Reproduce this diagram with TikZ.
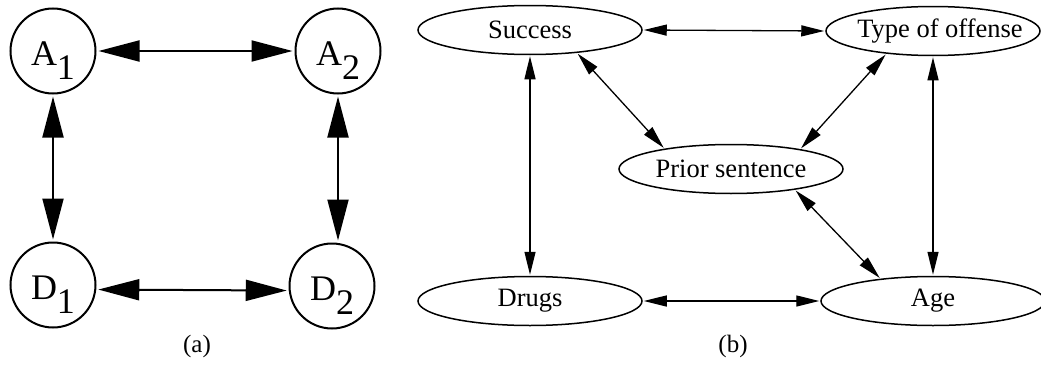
\documentclass[tikz,border=0pt]{standalone}
\usepackage{fontspec}
\setmainfont{Liberation Serif}
\usetikzlibrary{arrows.meta,shapes.geometric}
\newcommand{\lbl}[1]{\makebox[0pt][c]{#1}}
\newcommand{\circlbl}[2]{#1\raisebox{-14pt}{#2}}
\begin{document}
\begin{tikzpicture}[x=1pt,y=-1pt,
  circ/.style={circle,draw,line width=2pt,minimum size=85pt,inner sep=0pt,
    text height=42pt,text depth=14pt,font=\fontsize{36}{38}\selectfont},
  ell/.style={ellipse,draw,line width=1.5pt,minimum width=224pt,minimum height=49pt,
    inner sep=0pt,font=\fontsize{26.5}{30}\selectfont},
  bigarr/.style={line width=2pt,shorten <=2pt,shorten >=2pt,
    {Triangle[length=41pt,width=21pt]}-{Triangle[length=41pt,width=21pt]}},
  smallarr/.style={line width=1.3pt,shorten <=1pt,shorten >=1pt,
    {Triangle[length=23pt,width=11pt]}-{Triangle[length=23pt,width=11pt]}},
  captxt/.style={font=\fontsize{25}{28}\selectfont}
]
\useasboundingbox (0,0) rectangle (1041,364);

% panel (a)
\node[circ] (A1) at (53,51)  {\circlbl{A}{1}};
\node[circ] (A2) at (338,51) {\circlbl{A}{2}};
\node[circ] (D1) at (53,285) {\circlbl{D}{1}};
\node[circ] (D2) at (332,286) {\circlbl{D}{2}};

\draw[bigarr] (A1.east) -- (A2.west);
\draw[bigarr] (D1.-6) -- (D2.186);
\draw[bigarr] (A1.south) -- (D1.north);
\draw[bigarr] (A2.south) -- (A2.south |- D2.north);

\node[captxt] (capa) at (197,346) {(a)};

% panel (b)
\node[ell] (S)  at (530,30)  {\lbl{Success}};
\node[ell,minimum width=214pt] (T) at (933,31) {\lbl{\hspace*{14pt}Type of offense}};
\node[ell] (P)  at (731,169) {\lbl{Prior sentence}};
\node[ell] (Dg) at (530,301) {\lbl{Drugs}};
\node[ell] (Ag) at (933,301) {\lbl{Age}};

\draw[smallarr] (S.east) -- (T.west);
\draw[smallarr] (S.south) -- (Dg.north);
\draw[smallarr] (T.south) -- (Ag.north);
\draw[smallarr] (Dg.east) -- (Ag.west);
\draw[smallarr] (S.-26) -- (P.163);
\draw[smallarr] (T.-154) -- (P.16);
\draw[smallarr] (P.-18) -- (Ag.157);

\node[captxt] (capb) at (733,346) {(b)};
\end{tikzpicture}
\end{document}
